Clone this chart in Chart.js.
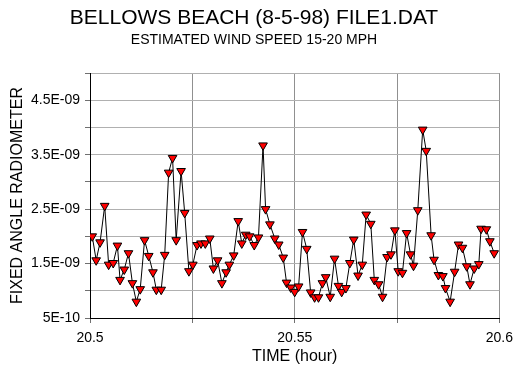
<!DOCTYPE html>
<html>
<head>
<meta charset="utf-8">
<script src="https://cdn.jsdelivr.net/npm/chart.js@4"></script>
<style>
  body { margin: 0; background: #fff; }
</style>
</head>
<body>
<canvas id="chart" width="520" height="365"></canvas>
<script>
// time in hours
const timeHours = [
  20.50055, 20.50151, 20.50246, 20.50359, 20.50455, 20.50567, 20.50670, 20.50734, 20.50837, 20.50940,
  20.51036, 20.51132, 20.51227, 20.51333, 20.51435, 20.51538, 20.51620, 20.51739, 20.51825, 20.51921,
  20.52017, 20.52105, 20.52225, 20.52313, 20.52416, 20.52512, 20.52615, 20.52711, 20.52816, 20.52926,
  20.53014, 20.53117, 20.53222, 20.53325, 20.53404, 20.53510, 20.53620, 20.53708, 20.53804, 20.53900,
  20.54012, 20.54115, 20.54227, 20.54289, 20.54395, 20.54514, 20.54610, 20.54720, 20.54801, 20.54904,
  20.55000, 20.55096, 20.55191, 20.55294, 20.55390, 20.55486, 20.55581, 20.55677, 20.55758, 20.55868,
  20.55974, 20.56069, 20.56148, 20.56251, 20.56347, 20.56443, 20.56548, 20.56651, 20.56746, 20.56859,
  20.56945, 20.57050, 20.57146, 20.57256, 20.57352, 20.57447, 20.57529, 20.57632, 20.57734, 20.57830,
  20.57902, 20.58007, 20.58127, 20.58213, 20.58333, 20.58404, 20.58510, 20.58620, 20.58684, 20.58797,
  20.58907, 20.59002, 20.59098, 20.59203, 20.59282, 20.59385, 20.59498, 20.59553, 20.59682, 20.59768,
  20.59873
];

// radiometer reading, in units of 1E-09
const radiometerNano = [
  2.00, 1.56, 1.89, 2.56, 1.48, 1.51, 1.83, 1.20, 1.39, 1.69,
  1.14, 0.80, 1.03, 1.93, 1.64, 1.34, 1.02, 1.02, 1.66, 3.17,
  3.44, 1.93, 3.20, 2.43, 1.36, 1.48, 1.84, 1.87, 1.87, 1.96,
  1.41, 1.56, 1.14, 1.34, 1.48, 1.65, 2.28, 1.87, 2.03, 2.00,
  1.84, 1.98, 3.67, 2.50, 2.22, 1.96, 1.85, 1.61, 1.15, 1.06,
  0.98, 1.08, 2.08, 1.77, 0.97, 0.88, 0.88, 1.14, 1.25, 0.89,
  1.59, 1.09, 0.98, 1.05, 1.51, 1.94, 1.28, 1.48, 2.40, 2.23,
  1.20, 1.12, 0.89, 1.62, 1.67, 2.11, 1.36, 1.33, 2.06, 1.67,
  1.46, 2.48, 3.96, 3.57, 2.02, 1.57, 1.29, 1.27, 1.05, 0.80,
  1.35, 1.85, 1.79, 1.45, 1.12, 1.41, 1.49, 2.14, 2.13, 1.91,
  1.69
];

const xTicks = [20.5, 20.525, 20.55, 20.575, 20.6];
const xTickLabels = ['20.5', '', '20.55', '', '20.6'];
const yTicks = [0.5, 1.0, 1.5, 2.0, 2.5, 3.0, 3.5, 4.0, 4.5, 5.0];
const yTickLabels = ['5E-10', '', '1.5E-09', '', '2.5E-09', '', '3.5E-09', '', '4.5E-09', ''];

const FONT = '"Liberation Sans", Arial, sans-serif';

const points = timeHours.map((t, i) => ({ x: t, y: radiometerNano[i] }));

new Chart(document.getElementById('chart'), {
  type: 'scatter',
  data: {
    datasets: [{
      data: points,
      showLine: true,
      borderColor: '#000',
      borderWidth: 1,
      tension: 0,
      pointStyle: 'triangle',
      pointRotation: 180,
      pointRadius: 5,
      pointHoverRadius: 5,
      pointBackgroundColor: '#ff0000',
      pointBorderColor: '#000',
      pointBorderWidth: 1
    }]
  },
  options: {
    responsive: false,
    animation: false,
    layout: { padding: { left: 0, right: 12, top: 0, bottom: 0 } },
    plugins: {
      legend: { display: false },
      tooltip: { enabled: false },
      title: {
        display: true,
        text: 'BELLOWS BEACH (8-5-98) FILE1.DAT',
        color: '#000',
        font: { family: FONT, size: 21, weight: 'normal', lineHeight: 1 },
        padding: { top: 7.5, bottom: 5 }
      },
      subtitle: {
        display: true,
        text: 'ESTIMATED WIND SPEED 15-20 MPH',
        color: '#000',
        font: { family: FONT, size: 14, weight: 'normal', lineHeight: 1 },
        padding: { top: 0, bottom: 25.5 }
      }
    },
    scales: {
      x: {
        type: 'linear',
        min: 20.5,
        max: 20.6,
        afterBuildTicks: axis => { axis.ticks = xTicks.map(v => ({ value: v })); },
        afterFit: axis => { axis.height = 47; },
        ticks: {
          autoSkip: false,
          maxRotation: 0,
          padding: 7,
          color: '#000',
          font: { family: FONT, size: 14 },
          callback: (v, i) => xTickLabels[i]
        },
        grid: { color: '#909090', tickColor: '#707070', tickLength: 5 },
        border: { color: '#000', width: 1 },
        title: {
          display: true,
          text: 'TIME (hour)',
          color: '#000',
          font: { family: FONT, size: 16, lineHeight: 1 },
          padding: { top: 0, bottom: 0 }
        }
      },
      y: {
        min: 0.5,
        max: 5,
        afterBuildTicks: axis => { axis.ticks = yTicks.map(v => ({ value: v })); },
        afterFit: axis => { axis.width = 90; },
        ticks: {
          autoSkip: false,
          padding: 5,
          color: '#000',
          font: { family: FONT, size: 14 },
          callback: (v, i) => yTickLabels[i]
        },
        grid: { color: '#b0b0b0', tickColor: '#707070', tickLength: 5 },
        border: { color: '#000', width: 1 },
        title: {
          display: true,
          text: 'FIXED ANGLE RADIOMETER',
          color: '#000',
          font: { family: FONT, size: 16, lineHeight: 1 },
          padding: { top: 10, bottom: 0 }
        }
      }
    }
  }
});
</script>
</body>
</html>
